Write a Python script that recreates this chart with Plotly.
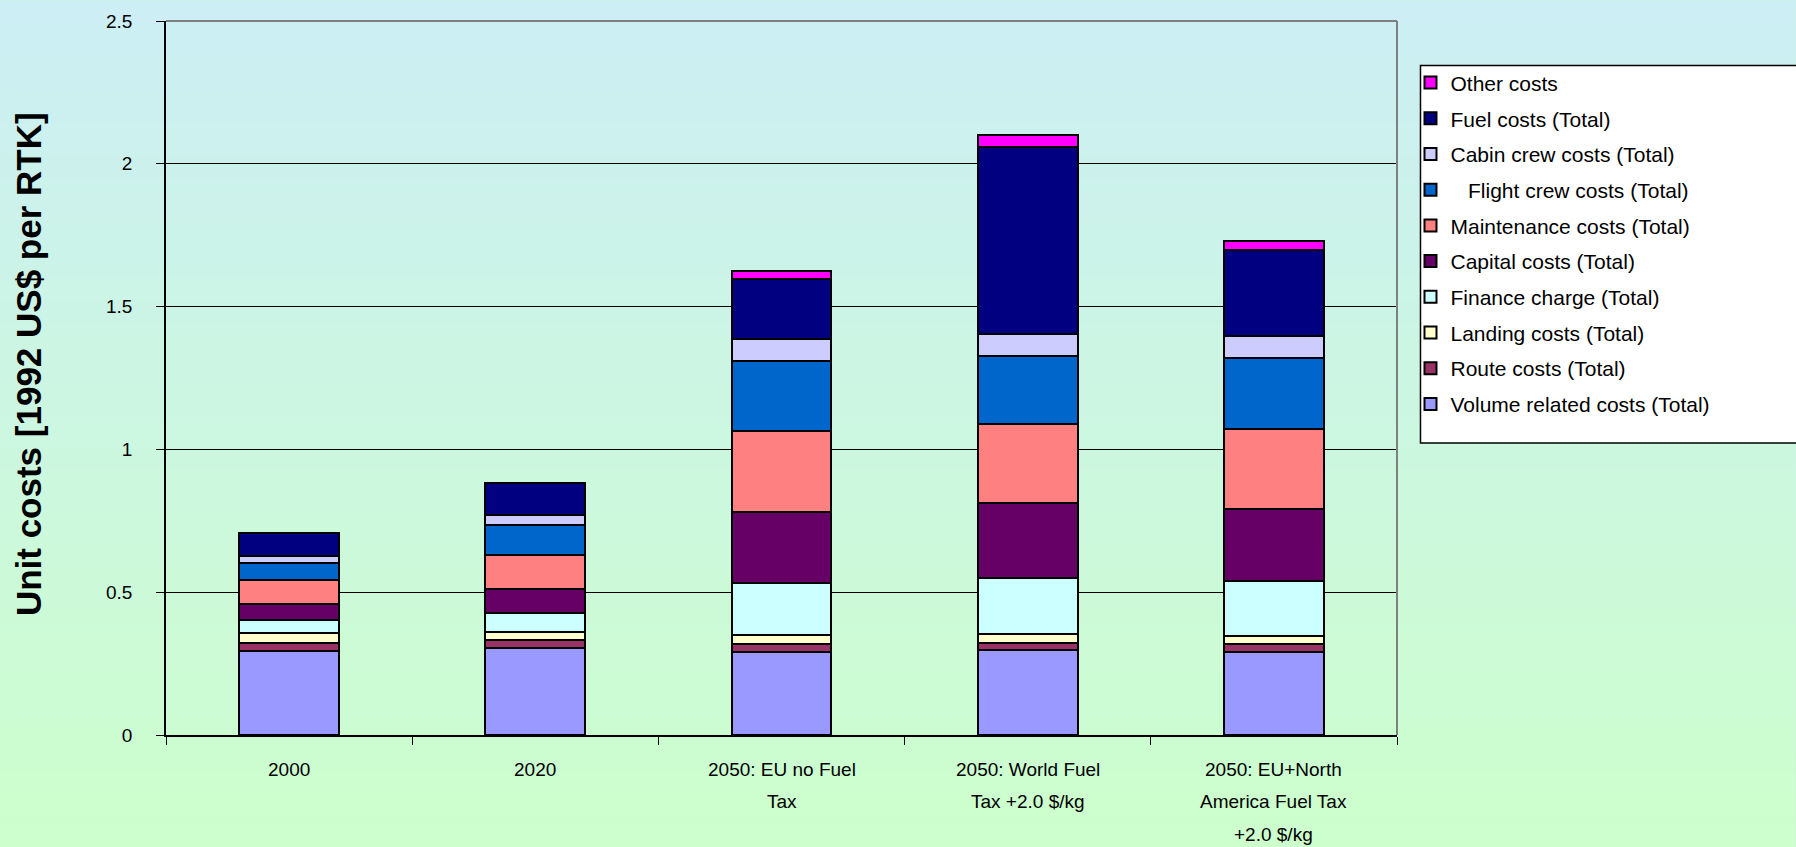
import plotly.graph_objects as go

# Scenario categories and the lines each axis label is broken into
categories = [
    "2000",
    "2020",
    "2050: EU no Fuel Tax",
    "2050: World Fuel Tax +2.0 $/kg",
    "2050: EU+North America Fuel Tax +2.0 $/kg",
]
category_lines = [
    ["2000"],
    ["2020"],
    ["2050: EU no Fuel", "Tax"],
    ["2050: World Fuel", "Tax +2.0 $/kg"],
    ["2050: EU+North", "America Fuel Tax", "+2.0 $/kg"],
]

# Unit cost components, 1992 US$ per RTK
volume = [0.294, 0.306, 0.292, 0.297, 0.292]
route = [0.029, 0.027, 0.026, 0.026, 0.026]
landing = [0.035, 0.028, 0.031, 0.029, 0.030]
finance = [0.045, 0.065, 0.182, 0.199, 0.191]
capital = [0.056, 0.085, 0.250, 0.262, 0.252]
maintenance = [0.084, 0.120, 0.284, 0.276, 0.281]
flight_crew = [0.061, 0.106, 0.246, 0.239, 0.247]
cabin_crew = [0.024, 0.033, 0.077, 0.077, 0.077]
fuel = [0.078, 0.112, 0.210, 0.653, 0.301]
other = [0.0, 0.0, 0.028, 0.042, 0.034]

series_names = [
    "Volume related costs (Total)",
    "Route costs (Total)",
    "Landing costs (Total)",
    "Finance charge (Total)",
    "Capital costs (Total)",
    "Maintenance costs (Total)",
    "\u00a0\u00a0\u00a0Flight crew costs (Total)",
    "Cabin crew costs (Total)",
    "Fuel costs (Total)",
    "Other costs",
]
series_values = [volume, route, landing, finance, capital, maintenance,
                 flight_crew, cabin_crew, fuel, other]
series_colors = ["#9999FF", "#993366", "#FFFFCC", "#CCFFFF", "#660066",
                 "#FF8080", "#0066CC", "#CCCCFF", "#000080", "#FF00FF"]

FONT = "Arial, Liberation Sans, sans-serif"
W, H = 1796, 847
ML, MR, MT, MB = 166, 398.5, 20.5, 111.7
PW, PH = W - ML - MR, H - MT - MB


def px_x(px):
    return (px - ML) / PW


def px_y(py):
    return (H - MB - py) / PH


fig = go.Figure()
n_series = len(series_names)
for i, (name, vals, col) in enumerate(zip(series_names, series_values, series_colors)):
    fig.add_trace(go.Bar(
        x=categories, y=vals, name=name,
        legendgroup=f"g{i}", legendrank=n_series - i,
        marker=dict(color=col, line=dict(color="black", width=2)),
    ))

# Vertical background gradient, light cyan at the top to pale green at the bottom
shapes = []
top_rgb, bot_rgb = (204, 238, 245), (204, 255, 204)
n = 110
for k in range(n):
    f = (k + 0.5) / n
    c = tuple(round(a + (b - a) * f) for a, b in zip(top_rgb, bot_rgb))
    y0px, y1px = H * k / n, H * (k + 1) / n + 1
    shapes.append(dict(
        type="rect", xref="paper", yref="paper", layer="below",
        x0=px_x(0), x1=px_x(W),
        y0=px_y(y1px), y1=px_y(y0px),
        fillcolor="rgb(%d,%d,%d)" % c, line=dict(width=0),
    ))
# Grey frame on the top and right of the plot area
shapes.append(dict(type="line", xref="paper", yref="paper", layer="above",
                   x0=0, x1=1, y0=1, y1=1, line=dict(color="#808080", width=2)))
shapes.append(dict(type="line", xref="paper", yref="paper", layer="above",
                   x0=1, x1=1, y0=0, y1=1, line=dict(color="#808080", width=2)))
# Legend panel, running off the right edge of the page
shapes.append(dict(type="rect", xref="paper", yref="paper", layer="above",
                   x0=px_x(1421), x1=px_x(W + 20), y0=px_y(443), y1=px_y(65),
                   fillcolor="white", line=dict(color="black", width=1.5)))

annotations = []
for idx, lines in enumerate(category_lines):
    for j, line in enumerate(lines):
        annotations.append(dict(
            x=idx, xref="x", y=0, yref="paper", yanchor="middle",
            yshift=-(34.7 + 32.2 * j), text=line, showarrow=False,
            font=dict(family=FONT, size=19, color="black"),
        ))
annotations.append(dict(
    x=0, xref="paper", xshift=28 - ML, y=px_y(364), yref="paper",
    text="<b>Unit costs [1992 US$ per RTK]</b>", textangle=-90, showarrow=False,
    xanchor="center", yanchor="middle",
    font=dict(family=FONT, size=35, color="black"),
))

fig.update_layout(
    width=W, height=H,
    margin=dict(l=ML, r=MR, t=MT, b=MB, autoexpand=False),
    paper_bgcolor="rgb(204,246,224)",
    plot_bgcolor="rgba(0,0,0,0)",
    barmode="stack",
    bargap=0.594,
    shapes=shapes,
    annotations=annotations,
    showlegend=True,
    legend=dict(
        x=px_x(1411), xanchor="left",
        y=px_y(62), yanchor="top",
        traceorder="grouped", tracegroupgap=5.4,
        bgcolor="rgba(0,0,0,0)", borderwidth=0,
        font=dict(family=FONT, size=21, color="black"),
        itemwidth=30,
    ),
    xaxis=dict(
        type="category", range=[-0.5, len(categories) - 0.5],
        showticklabels=False, tickson="boundaries",
        ticks="outside", ticklen=8, tickcolor="black", tickwidth=1,
        showline=True, linecolor="black", linewidth=1.5,
        showgrid=False,
    ),
    yaxis=dict(
        range=[0, 2.5], dtick=0.5, tick0=0,
        ticks="outside", ticklen=8, tickcolor="black", tickwidth=1,
        ticklabelstandoff=20,
        tickfont=dict(family=FONT, size=19, color="black"),
        showline=True, linecolor="black", linewidth=1.5,
        showgrid=True, gridcolor="black", gridwidth=1,
        zeroline=False,
    ),
)

fig.write_html("out.html")
